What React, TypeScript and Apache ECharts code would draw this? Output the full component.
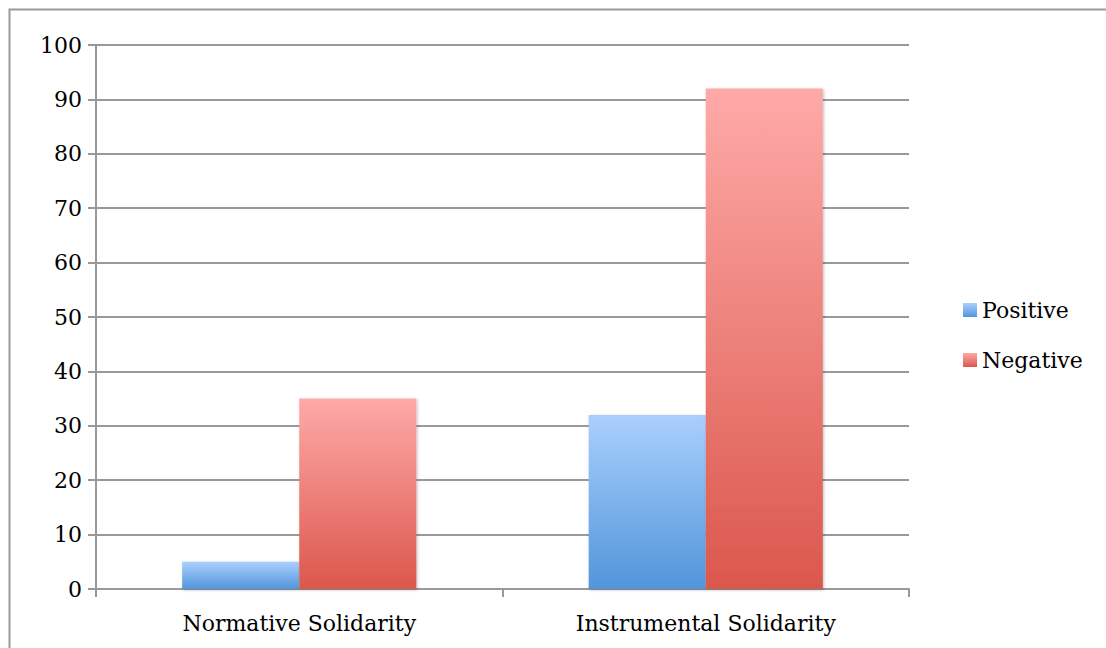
import React, { useEffect, useRef } from "react";
import * as echarts from "echarts";

const categories = ["Normative Solidarity", "Instrumental Solidarity"];
const positiveValues = [5, 32];
const negativeValues = [35, 92];
const seriesNames = ["Positive", "Negative"];

const FONT = "DejaVu Serif";

export default function App() {
  const ref = useRef<HTMLDivElement>(null);
  useEffect(() => {
    if (!ref.current) return;
    const chart = echarts.init(ref.current, undefined, { renderer: "svg" });
    const grad = (top: string, bottom: string) =>
      new echarts.graphic.LinearGradient(0, 0, 0, 1, [
        { offset: 0, color: top },
        { offset: 1, color: bottom },
      ]);
    chart.setOption({
      animation: false,
      textStyle: { fontFamily: FONT },
      graphic: [
        {
          type: "rect",
          shape: { x: 9.5, y: 9.5, width: 1200, height: 800 },
          style: { fill: "none", stroke: "#9a9a9a", lineWidth: 2 },
          silent: true,
        },
      ],
      grid: { left: 96, right: 197, top: 45, bottom: 59 },
      legend: {
        orient: "vertical",
        left: 958,
        top: 294,
        itemWidth: 14,
        itemHeight: 14,
        itemGap: 28,
        icon: "rect",
        textStyle: { fontFamily: FONT, fontSize: 22, color: "#000" },
        data: seriesNames,
      },
      xAxis: {
        type: "category",
        data: categories,
        axisLine: { lineStyle: { color: "#999", width: 2 } },
        axisTick: { show: true, length: 8, lineStyle: { color: "#999", width: 2 } },
        axisLabel: { fontFamily: FONT, fontSize: 22, color: "#000", margin: 23 },
      },
      yAxis: {
        type: "value",
        min: 0,
        max: 100,
        interval: 10,
        axisLine: { show: true, lineStyle: { color: "#999", width: 2 } },
        axisTick: { show: true, length: 8, lineStyle: { color: "#999", width: 2 } },
        splitLine: { lineStyle: { color: "#999", width: 2 } },
        axisLabel: { fontFamily: FONT, fontSize: 22, color: "#000", margin: 14 },
      },
      series: [
        {
          name: seriesNames[0],
          type: "bar",
          data: positiveValues,
          barGap: "0%",
          barCategoryGap: "42.4%",
          itemStyle: {
            color: grad("#aacffe", "#5196db"),
            shadowBlur: 3,
            shadowColor: "rgba(0,0,0,0.25)",
            shadowOffsetX: 1,
            shadowOffsetY: 1,
          },
        },
        {
          name: seriesNames[1],
          type: "bar",
          data: negativeValues,
          barGap: "0%",
          barCategoryGap: "42.4%",
          itemStyle: {
            color: grad("#feaaa8", "#db574c"),
            shadowBlur: 3,
            shadowColor: "rgba(0,0,0,0.25)",
            shadowOffsetX: 1,
            shadowOffsetY: 1,
          },
        },
      ],
    });
    return () => chart.dispose();
  }, []);
  return (
    <div
      ref={ref}
      style={{ position: "fixed", left: 0, top: 0, width: 1106, height: 648, background: "#fff" }}
    />
  );
}
